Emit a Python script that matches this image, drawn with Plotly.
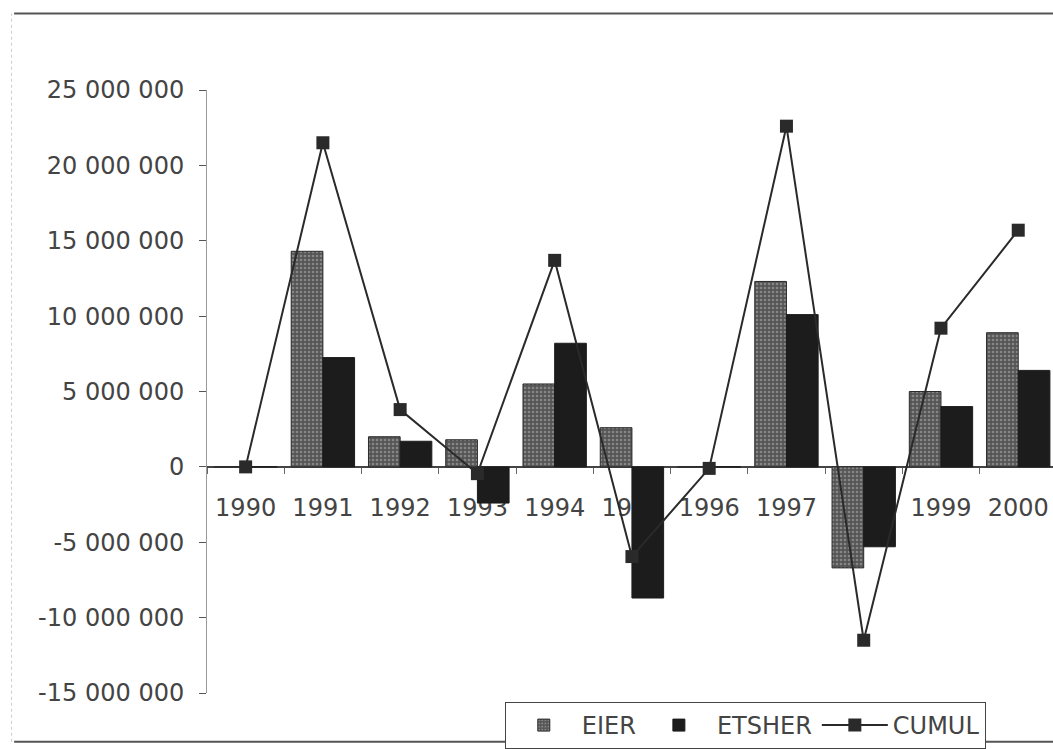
import plotly.graph_objects as go

years = ["1990", "1991", "1992", "1993", "1994", "1995", "1996", "1997", "1998", "1999", "2000"]
eier = [0, 14300000, 2000000, 1800000, 5500000, 2600000, 0, 12300000, -6700000, 5000000, 8900000]
etsher = [0, 7250000, 1700000, -2400000, 8200000, -8700000, 0, 10100000, -5300000, 4000000, 6400000]
cumul = [0, 21500000, 3800000, -450000, 13700000, -5950000, -100000, 22600000, -11500000, 9200000, 15700000]

y_tickvals = [-15000000, -10000000, -5000000, 0, 5000000, 10000000, 15000000, 20000000, 25000000]
y_ticktext = ["-15 000 000", "-10 000 000", "-5 000 000", "0", "5 000 000",
              "10 000 000", "15 000 000", "20 000 000", "25 000 000"]

FONT = "DejaVu Sans"
TXT = "#444444"

fig = go.Figure()
fig.add_trace(go.Bar(
    x=years, y=eier, name="EIER",
    marker=dict(color="#5e5e5e",
                line=dict(color="#2a2a2a", width=1),
                pattern=dict(shape=".", fgcolor="#b8b8b8", bgcolor="#555555",
                             size=4, solidity=0.35)),
))
fig.add_trace(go.Bar(
    x=years, y=etsher, name="ETSHER",
    marker=dict(color="#1c1c1c", line=dict(color="#1c1c1c", width=1)),
))
fig.add_trace(go.Scatter(
    x=years, y=cumul, name="CUMUL", mode="lines+markers",
    line=dict(color="#2a2a2a", width=2),
    marker=dict(symbol="square", size=13, color="#2a2a2a"),
))

ymin, ymax = -15000000, 25000000
zero_pos = (0 - ymin) / (ymax - ymin)

fig.update_layout(
    width=1053, height=749,
    paper_bgcolor="white", plot_bgcolor="white",
    margin=dict(l=207, r=0, t=90, b=53),
    barmode="group", bargap=0.18, bargroupgap=0,
    font=dict(family=FONT, size=24, color=TXT),
    showlegend=True,
    legend=dict(orientation="h", x=0.352, y=-0.015, xanchor="left", yanchor="top",
                bgcolor="white", bordercolor="#444444", borderwidth=1,
                font=dict(family=FONT, size=24, color=TXT),
                itemwidth=66, tracegroupgap=0),
    xaxis=dict(
        type="category", range=[-0.5, 10.45],
        anchor="free", position=zero_pos,
        showline=True, linecolor="#444444", linewidth=1.5,
        ticks="outside", tickson="boundaries", ticklen=6, tickcolor="#666666",
        ticklabelstandoff=20, ticklabeloverflow="allow",
        showgrid=False, zeroline=False,
        layer="below traces",
        tickfont=dict(family=FONT, size=24, color=TXT),
    ),
    yaxis=dict(
        range=[ymin, ymax],
        tickvals=y_tickvals, ticktext=y_ticktext,
        showline=True, linecolor="#9a9a9a", linewidth=1,
        ticks="outside", ticklen=7, tickcolor="#555555",
        showgrid=False, zeroline=False,
        ticklabelstandoff=10,
        tickfont=dict(family=FONT, size=24, color=TXT),
    ),
    shapes=[
        dict(type="line", xref="paper", yref="paper", x0=-0.228, x1=1.0, y0=1.127, y1=1.127,
             line=dict(color="#555555", width=2)),
        dict(type="line", xref="paper", yref="paper", x0=-0.228, x1=1.0, y0=-0.081, y1=-0.081,
             line=dict(color="#555555", width=2)),
        dict(type="line", xref="paper", yref="paper", x0=-0.231, x1=-0.231, y0=-0.081, y1=1.127,
             line=dict(color="#cccccc", width=1, dash="dot")),
    ],
)

fig.write_html(
    "out.html",
    config={"displayModeBar": False},
    post_script="document.body.style.margin='0';document.body.style.overflow='hidden';",
)
